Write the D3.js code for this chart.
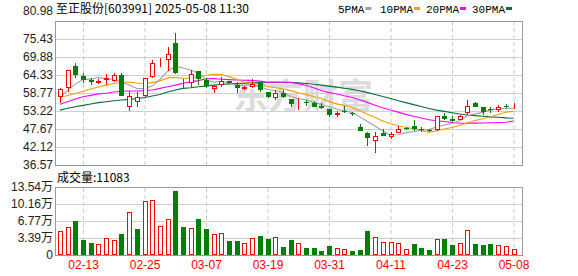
<!DOCTYPE html>
<html>
<head>
<meta charset="utf-8">
<script src="https://cdn.jsdelivr.net/npm/d3@7"></script>
<style>
body { margin: 0; background: #fff; }
text { font-family: "Liberation Sans", "Noto Sans CJK SC", sans-serif; }
</style>
</head>
<body>
<div id="main"></div>
<script>
const ctx = {
    w: 578,
    h: 276,
    left: 55,
    right: 522,
    kTop: 21,
    kBottom: 165,
    vTop: 187,
    vBottom: 255,
    up: "#ff0000",
    down: "#008000"
};

// trading days shown (MM-DD)
const dates = ["02-10","02-11","02-12","02-13","02-14","02-17","02-18","02-19","02-20","02-21",
    "02-24","02-25","02-26","02-27","02-28","03-03","03-04","03-05","03-06","03-07",
    "03-10","03-11","03-12","03-13","03-14","03-17","03-18","03-19","03-20","03-21",
    "03-24","03-25","03-26","03-27","03-28","03-31","04-01","04-02","04-03","04-07",
    "04-08","04-09","04-10","04-11","04-14","04-15","04-16","04-17","04-18","04-21",
    "04-22","04-23","04-24","04-25","04-28","04-29","04-30","05-06","05-07","05-08"];

const opens = [57.44,60.2,67.2,64.0,62.8,62.0,62.8,62.6,64.3,54.4,
    56.1,57.9,63.6,67.9,69.0,74.1,60.5,61.8,65.6,62.8,
    60.1,61.2,62.5,61.2,60.0,60.5,62.0,59.2,57.3,58.9,
    56.9,55.6,56.1,55.6,54.8,53.8,52.1,53.3,52.5,48.2,
    46.5,44.1,46.5,45.1,46.5,47.95,48.7,47.7,47.4,47.4,
    51.8,50.9,50.5,52.7,55.6,54.4,53.9,53.5,54.65,54.75];
const highs = [60.2,66.0,68.1,64.8,63.3,63.0,64.6,65.0,64.8,59.4,
    59.2,63.5,69.0,69.5,72.9,77.2,63.0,65.9,65.6,63.3,
    61.2,63.6,62.6,62.3,60.9,63.0,62.3,59.2,59.7,59.7,
    57.0,57.1,56.6,56.2,55.6,53.9,53.3,54.8,53.0,49.2,
    46.6,46.9,47.8,46.9,48.7,48.3,50.3,48.4,47.8,51.6,
    52.5,51.7,52.1,56.6,56.1,54.4,54.6,55.1,55.4,55.6];
const lows = [55.6,59.2,63.3,62.0,61.2,61.7,61.2,62.2,57.8,53.3,
    54.4,57.4,63.4,66.9,65.7,64.7,60.4,60.7,61.2,60.2,
    58.7,60.7,61.5,58.9,59.7,60.2,59.2,57.1,56.6,57.3,
    54.4,53.5,54.8,54.4,53.9,51.5,51.5,52.5,51.8,47.1,
    42.4,40.4,45.4,44.7,46.3,47.4,47.0,46.9,46.8,47.2,
    50.5,49.8,50.3,52.0,54.4,52.1,52.5,53.0,54.1,53.7];
const closes = [59.91,65.87,64.33,62.8,62.3,62.6,63.4,64.2,57.9,58.0,
    57.4,63.3,67.9,68.1,70.8,64.8,60.9,64.6,63.0,60.9,
    60.9,62.5,61.8,60.2,60.5,61.5,59.7,57.4,58.7,57.4,
    55.4,56.1,55.9,54.6,54.0,52.0,52.7,52.9,52.3,47.2,
    44.8,45.5,45.6,46.1,47.7,47.7,47.7,47.4,47.1,51.6,
    50.7,50.0,51.7,54.7,54.6,53.0,53.5,54.4,54.4,55.0];

const ma5 = [57.6,59.6,61.6,62.9,63.04,63.58,63.08,63.06,62.08,61.22,
    60.18,60.16,60.9,62.94,65.5,66.98,66.5,65.84,64.82,62.84,
    62.06,62.38,61.82,61.26,61.18,61.3,60.74,59.86,59.56,58.94,
    57.72,57.0,56.7,55.88,55.2,54.52,53.84,53.24,52.78,51.42,
    49.98,48.54,47.06,45.82,45.92,46.48,46.92,47.3,47.5,48.28,
    48.9,49.36,50.22,51.74,52.34,52.8,53.5,54.04,53.98,54.04];
const ma10 = [57.4,58.0,58.6,59.3,60.0,60.6,61.2,61.7,62.1,62.13,
    61.88,61.62,61.98,62.51,63.36,63.58,63.33,63.37,63.88,64.17,
    64.52,64.44,63.83,63.04,62.01,61.68,61.56,60.84,60.41,60.06,
    59.51,58.87,58.28,57.72,57.07,56.12,55.42,54.97,54.33,53.31,
    52.25,51.19,50.15,49.3,48.67,48.23,47.73,47.18,46.66,47.1,
    47.69,48.14,48.76,49.62,50.31,50.85,51.43,52.13,52.86,53.19];
const ma20 = [55.3,56.1,56.9,57.6,58.05,58.5,58.7,59.1,59.3,59.4,
    59.4,59.5,59.7,60.2,60.7,61.2,61.76,62.2,62.6,63.15,
    63.2,63.03,62.9,62.78,62.69,62.63,62.45,62.1,62.15,62.1,
    62.0,61.66,61.06,60.38,59.54,58.9,58.49,57.9,57.37,56.69,
    55.88,55.03,54.22,53.51,52.87,52.18,51.58,51.08,50.5,50.2,
    49.97,49.67,49.46,49.46,49.49,49.54,49.58,49.66,49.76,50.15];
const ma30 = [53.5,54.05,54.56,54.97,55.4,55.8,56.1,56.4,56.6,56.8,
    57.0,57.4,57.85,58.3,59.1,59.7,60.2,60.4,60.7,60.9,
    61.2,61.4,61.6,61.7,61.8,61.9,62.0,62.1,62.1,62.1,
    62.05,61.9,61.7,61.45,61.2,60.9,60.6,60.25,59.9,59.45,
    58.9,58.3,57.7,57.1,56.4,55.8,55.2,54.6,54.0,53.5,
    53.1,52.7,52.3,52.0,51.8,51.6,51.4,51.3,51.1,51.0];

// volume (shares of 100), and whether the bar is drawn red (1) or green (0)
const volumes = [47800,55700,67700,29900,23900,21200,33200,29200,41800,85000,
    51800,106800,108800,57700,71000,127400,55700,53800,71700,51800,
    41100,43100,27900,27900,23200,33200,37800,31900,35200,15900,
    29900,23200,13900,13900,8000,17900,13300,11300,8000,10000,
    47800,35200,25200,25200,23200,11300,21900,13900,10000,31200,
    31900,19900,23200,49100,21900,19900,21900,19200,17300,11083];
const volUp = [1,1,0,0,0,1,1,1,0,1,
    0,1,1,1,1,0,0,1,0,0,
    1,1,0,0,1,1,0,0,1,0,
    0,1,0,0,0,0,1,1,0,0,
    0,1,1,1,1,1,0,0,0,1,
    0,0,1,1,0,0,0,1,1,1];

const priceTicks = [36.57,42.12,47.67,53.22,58.77,64.33,69.88,75.43,80.98];
const volTicks = [0,33850,67700,101550,135400];
const volTickLabels = ["0","3.39万","6.77万","10.16万","13.54万"];
const dateTicks = ["02-13","02-25","03-07","03-19","03-31","04-11","04-23","05-08"];

const maSeries = [
    { name: "5PMA", values: ma5, color: "#a0a0a0" },
    { name: "10PMA", values: ma10, color: "#f0a000" },
    { name: "20PMA", values: ma20, color: "#ff00ff" },
    { name: "30PMA", values: ma30, color: "#00703c" }
];

function drawChart(svg) {
    const x = d3.scalePoint().domain(dates).range([60, 513.5]);
    const y = d3.scaleLinear().domain([36.57, 80.98]).range([ctx.kBottom, ctx.kTop]);
    const yv = d3.scaleLinear().domain([0, 135400]).range([ctx.vBottom, ctx.vTop]);
    const px = d => Math.round(x(d));
    const W = ctx.right - ctx.left;

    // watermark
    svg.append("text")
        .attr("x", 233).attr("y", 109)
        .attr("font-size", 35).attr("font-weight", "bold")
        .style("font-family", "'Noto Sans CJK SC'")
        .attr("fill", "#dcdcdc")
        .text("东方财富");

    // horizontal grid
    const gridG = svg.append("g").attr("id", "gridG");
    gridG.append("g")
        .attr("transform", `translate(${ctx.left},0)`)
        .call(d3.axisLeft(y).tickValues(priceTicks).tickSize(-W).tickFormat(""))
        .call(g => g.select(".domain").remove())
        .call(g => g.selectAll("line").attr("stroke", "#d0d0d0"));
    gridG.append("g")
        .attr("transform", `translate(${ctx.left},0)`)
        .call(d3.axisLeft(yv).tickValues(volTicks).tickSize(-W).tickFormat(""))
        .call(g => g.select(".domain").remove())
        .call(g => g.selectAll("line").attr("stroke", "#d0d0d0"));

    // vertical dashed grid
    [[ctx.kTop, ctx.kBottom], [ctx.vTop, ctx.vBottom]].forEach(([t, b]) => {
        gridG.append("g")
            .attr("transform", `translate(0,${b})`)
            .call(d3.axisBottom(x).tickValues(dateTicks).tickSize(-(b - t)).tickFormat(""))
            .call(g => g.select(".domain").remove())
            .call(g => g.selectAll("line").attr("stroke", "#c8c8c8").attr("stroke-dasharray", "4,3"));
    });

    // panel borders
    [[ctx.kTop, ctx.kBottom], [ctx.vTop, ctx.vBottom]].forEach(([t, b]) => {
        svg.append("rect")
            .attr("x", ctx.left + 0.5).attr("y", t + 0.5)
            .attr("width", W).attr("height", b - t)
            .attr("fill", "none").attr("stroke", "#999");
    });

    // price axis labels
    const yAxisG = svg.append("g")
        .attr("transform", `translate(${ctx.left - 2},0)`)
        .call(d3.axisLeft(y).tickValues(priceTicks).tickSize(0).tickPadding(0)
            .tickFormat(d => d.toFixed(2)))
        .call(g => g.select(".domain").remove());
    yAxisG.selectAll("text").attr("font-size", 12).attr("fill", "#222")
        .style("font-family", "'Liberation Sans'")
        .attr("dy", d => d === 80.98 ? "-0.55em" : "0.32em");

    // volume axis labels
    svg.append("g")
        .attr("transform", `translate(${ctx.left - 2},0)`)
        .call(d3.axisLeft(yv).tickValues(volTicks).tickSize(0).tickPadding(0)
            .tickFormat((d, i) => volTickLabels[i]))
        .call(g => g.select(".domain").remove())
        .call(g => g.selectAll("text").attr("font-size", 12).attr("fill", "#222"));

    // date labels
    svg.append("g")
        .attr("transform", `translate(0,${ctx.vBottom})`)
        .call(d3.axisBottom(x).tickValues(dateTicks).tickSize(0).tickPadding(5))
        .call(g => g.select(".domain").remove())
        .call(g => g.selectAll("text").attr("font-size", 12).attr("fill", "#ff0000"));

    // moving averages
    const line = vals => d3.line()
        .x((d, i) => x(dates[i]))
        .y(d => y(d))(vals);
    svg.append("g").selectAll("path")
        .data(maSeries.slice().reverse())
        .join("path")
        .attr("d", d => line(d.values))
        .attr("fill", "none")
        .attr("stroke", d => d.color)
        .attr("stroke-width", 1.1);

    // candles
    const candles = dates.map((d, i) => ({
        date: d, o: opens[i], h: highs[i], l: lows[i], c: closes[i]
    }));
    const cG = svg.append("g").attr("id", "candleG");
    const cand = cG.selectAll("g").data(candles).join("g");
    cand.append("line")
        .attr("x1", d => px(d.date) + 0.5).attr("x2", d => px(d.date) + 0.5)
        .attr("y1", d => Math.round(y(d.h))).attr("y2", d => Math.round(y(d.l)))
        .attr("stroke", d => d.c >= d.o ? ctx.up : ctx.down);
    cand.filter(d => d.c < d.o).append("rect")
        .attr("x", d => px(d.date) - 2)
        .attr("y", d => Math.round(y(d.o)))
        .attr("width", 5)
        .attr("height", d => Math.max(1, Math.round(y(d.c)) - Math.round(y(d.o))))
        .attr("fill", ctx.down);
    cand.filter(d => d.c >= d.o).append("rect")
        .attr("x", d => px(d.date) - 1.5)
        .attr("y", d => Math.round(y(d.c)) + 0.5)
        .attr("width", 4)
        .attr("height", d => Math.max(0, Math.round(y(d.o)) - Math.round(y(d.c)) - 1))
        .attr("fill", "#fff")
        .attr("stroke", ctx.up);

    // volume bars
    const vG = svg.append("g").attr("id", "volG");
    const vols = dates.map((d, i) => ({ date: d, v: volumes[i], up: volUp[i] }));
    vG.selectAll("rect.dn").data(vols.filter(d => !d.up)).join("rect")
        .attr("class", "dn")
        .attr("x", d => px(d.date) - 2)
        .attr("y", d => Math.round(yv(d.v)))
        .attr("width", 5)
        .attr("height", d => ctx.vBottom - Math.round(yv(d.v)))
        .attr("fill", ctx.down);
    vG.selectAll("rect.up").data(vols.filter(d => d.up)).join("rect")
        .attr("class", "up")
        .attr("x", d => px(d.date) - 1.5)
        .attr("y", d => Math.round(yv(d.v)) + 0.5)
        .attr("width", 4)
        .attr("height", d => ctx.vBottom - Math.round(yv(d.v)) - 1)
        .attr("fill", "#fff")
        .attr("stroke", ctx.up);

    // title and legend
    svg.append("text")
        .attr("x", 56).attr("y", 13)
        .attr("font-size", 12).attr("fill", "#000")
        .style("font-family", "'Noto Sans CJK SC'")
        .text("至正股份[603991] 2025-05-08 11:30");

    const legendX = [338, 380, 426, 472];
    const lg = svg.append("g").selectAll("g").data(maSeries).join("g")
        .attr("transform", (d, i) => `translate(${legendX[i]},0)`);
    lg.append("text")
        .attr("y", 13).attr("font-size", 11)
        .style("font-family", "'Liberation Mono'")
        .attr("fill", "#000")
        .text(d => d.name);
    lg.append("rect")
        .attr("x", d => d.name.length * 6.6 + 1).attr("y", 7)
        .attr("width", 6).attr("height", 3)
        .attr("fill", d => d.color);

    svg.append("text")
        .attr("x", 57).attr("y", 182)
        .attr("font-size", 12).attr("fill", "#000")
        .style("font-family", "'Noto Sans CJK SC'")
        .text("成交量:" + volumes[volumes.length - 1]);
}

function createViz() {
    const svgEl = d3.select("#main").append("svg")
        .attr("width", ctx.w)
        .attr("height", ctx.h);
    const rootG = svgEl.append("g").attr("id", "rootG");
    drawChart(rootG);
}

createViz();
</script>
</body>
</html>
